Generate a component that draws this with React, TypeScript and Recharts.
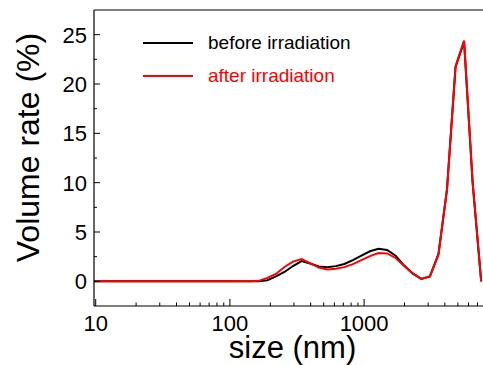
import { LineChart, Line, XAxis, YAxis, ReferenceLine, Label } from 'recharts';

// size bins (nm)
const sizes = [
  8.721, 10.1, 11.7, 13.54, 15.69, 18.17, 21.04, 24.36, 28.21, 32.67, 37.84, 43.82,
  50.75, 58.77, 68.06, 78.82, 91.28, 105.7, 122.4, 141.8, 164.2, 190.1, 220.2, 255.0,
  295.3, 342.0, 396.1, 458.7, 531.2, 615.1, 712.4, 825.0, 955.4, 1106, 1281, 1484,
  1718, 1990, 2305, 2669, 3091, 3580, 4145, 4801, 5560, 6439, 7456,
];

const before = [
  0, 0, 0, 0, 0, 0, 0, 0, 0, 0, 0, 0,
  0, 0, 0, 0, 0, 0, 0, 0, 0.02, 0.12, 0.5, 0.95,
  1.55, 2.05, 1.8, 1.5, 1.43, 1.54, 1.76, 2.15, 2.6, 3.05, 3.3, 3.18,
  2.6, 1.6, 0.8, 0.25, 0.5, 2.75, 9.3, 21.7, 24.3, 10.0, 0,
];

const after = [
  0, 0, 0, 0, 0, 0, 0, 0, 0, 0, 0, 0,
  0, 0, 0, 0, 0, 0, 0, 0, 0.05, 0.35, 0.75, 1.45,
  2.0, 2.25, 1.85, 1.4, 1.2, 1.27, 1.44, 1.74, 2.15, 2.55, 2.86, 2.83,
  2.37, 1.55, 0.78, 0.24, 0.5, 2.7, 9.3, 21.8, 24.4, 10.0, 0,
];

const xTicks = [
  10, 20, 30, 40, 50, 60, 70, 80, 90,
  100, 200, 300, 400, 500, 600, 700, 800, 900,
  1000, 2000, 3000, 4000, 5000, 6000, 7000,
];
const xMajor = [10, 100, 1000];
const yTicks = [0, 2.5, 5, 7.5, 10, 12.5, 15, 17.5, 20, 22.5, 25];

const legendItems = [
  { label: 'before irradiation', color: '#000000' },
  { label: 'after irradiation', color: '#ff0000' },
];

const data = sizes.map((s, i) => ({ size: s, before: before[i], after: after[i] }));

const FONT = "'Liberation Sans', Arial, sans-serif";

function XTick({ x, y, payload }: any) {
  const major = xMajor.includes(payload.value);
  return (
    <g>
      <line x1={x} x2={x} y1={y} y2={y - (major ? 7 : 3.5)} stroke="#000" strokeWidth={1} />
      {major && (
        <text x={x} y={y + 25} textAnchor="middle" fontSize={22} fontFamily={FONT} fill="#000">
          {payload.value}
        </text>
      )}
    </g>
  );
}

function YTick({ x, y, payload }: any) {
  const major = payload.value % 5 === 0;
  return (
    <g>
      <line x1={x} x2={x + (major ? 6 : 3)} y1={y} y2={y} stroke="#000" strokeWidth={1} />
      {major && (
        <text x={x - 7} y={y + 7.9} textAnchor="end" fontSize={22} fontFamily={FONT} fill="#000">
          {payload.value}
        </text>
      )}
    </g>
  );
}

function LegendBox() {
  return (
    <div style={{ position: 'absolute', left: 143, top: 33, width: 240, height: 60, fontFamily: FONT }}>
      {legendItems.map((it, i) => (
        <div
          key={it.label}
          style={{ position: 'absolute', left: 0, top: i * 33.4, height: 20, display: 'flex', alignItems: 'center' }}
        >
          <div style={{ width: 50, height: 2, background: it.color }} />
          <span style={{ marginLeft: 15, fontSize: 19, lineHeight: '20px', color: it.color, whiteSpace: 'nowrap' }}>
            {it.label}
          </span>
        </div>
      ))}
    </div>
  );
}

export default function App() {
  return (
    <div style={{ position: 'absolute', left: 0, top: 0, width: 483, height: 365, overflow: 'hidden', background: '#fff' }}>
      <LineChart width={490} height={365} data={data} margin={{ top: 10, right: 5, bottom: 0, left: 0 }}>
        <XAxis
          dataKey="size"
          type="number"
          scale="log"
          domain={[9.71, 7960]}
          allowDataOverflow
          ticks={xTicks}
          interval={0}
          tick={<XTick />}
          tickLine={false}
          tickSize={0}
          tickMargin={0}
          height={59}
          axisLine={{ stroke: '#000', strokeWidth: 1.2 }}
        >
          <Label
            content={({ viewBox }: any) => (
              <text
                x={viewBox.x + viewBox.width / 2 + 3}
                y={358}
                textAnchor="middle"
                fontSize={31}
                fontFamily={FONT}
                fill="#000"
              >
                size (nm)
              </text>
            )}
          />
        </XAxis>
        <YAxis
          type="number"
          domain={[-2.5, 27.5]}
          allowDataOverflow
          ticks={yTicks}
          interval={0}
          tick={<YTick />}
          tickLine={false}
          tickSize={0}
          tickMargin={0}
          width={94}
          axisLine={{ stroke: '#000', strokeWidth: 1.2 }}
        >
          <Label
            content={() => (
              <text
                x={39}
                y={147.5}
                transform="rotate(-90, 39, 147.5)"
                textAnchor="middle"
                fontSize={32}
                fontFamily={FONT}
                fill="#000"
              >
                Volume rate (%)
              </text>
            )}
          />
        </YAxis>
        <ReferenceLine y={27.5} stroke="#000" strokeWidth={1.2} />
        <Line
          type="linear"
          dataKey="before"
          stroke="#000000"
          strokeWidth={2}
          dot={false}
          isAnimationActive={false}
        />
        <Line
          type="linear"
          dataKey="after"
          stroke="#ff0000"
          strokeWidth={2}
          dot={false}
          isAnimationActive={false}
        />
      </LineChart>
      <LegendBox />
    </div>
  );
}
